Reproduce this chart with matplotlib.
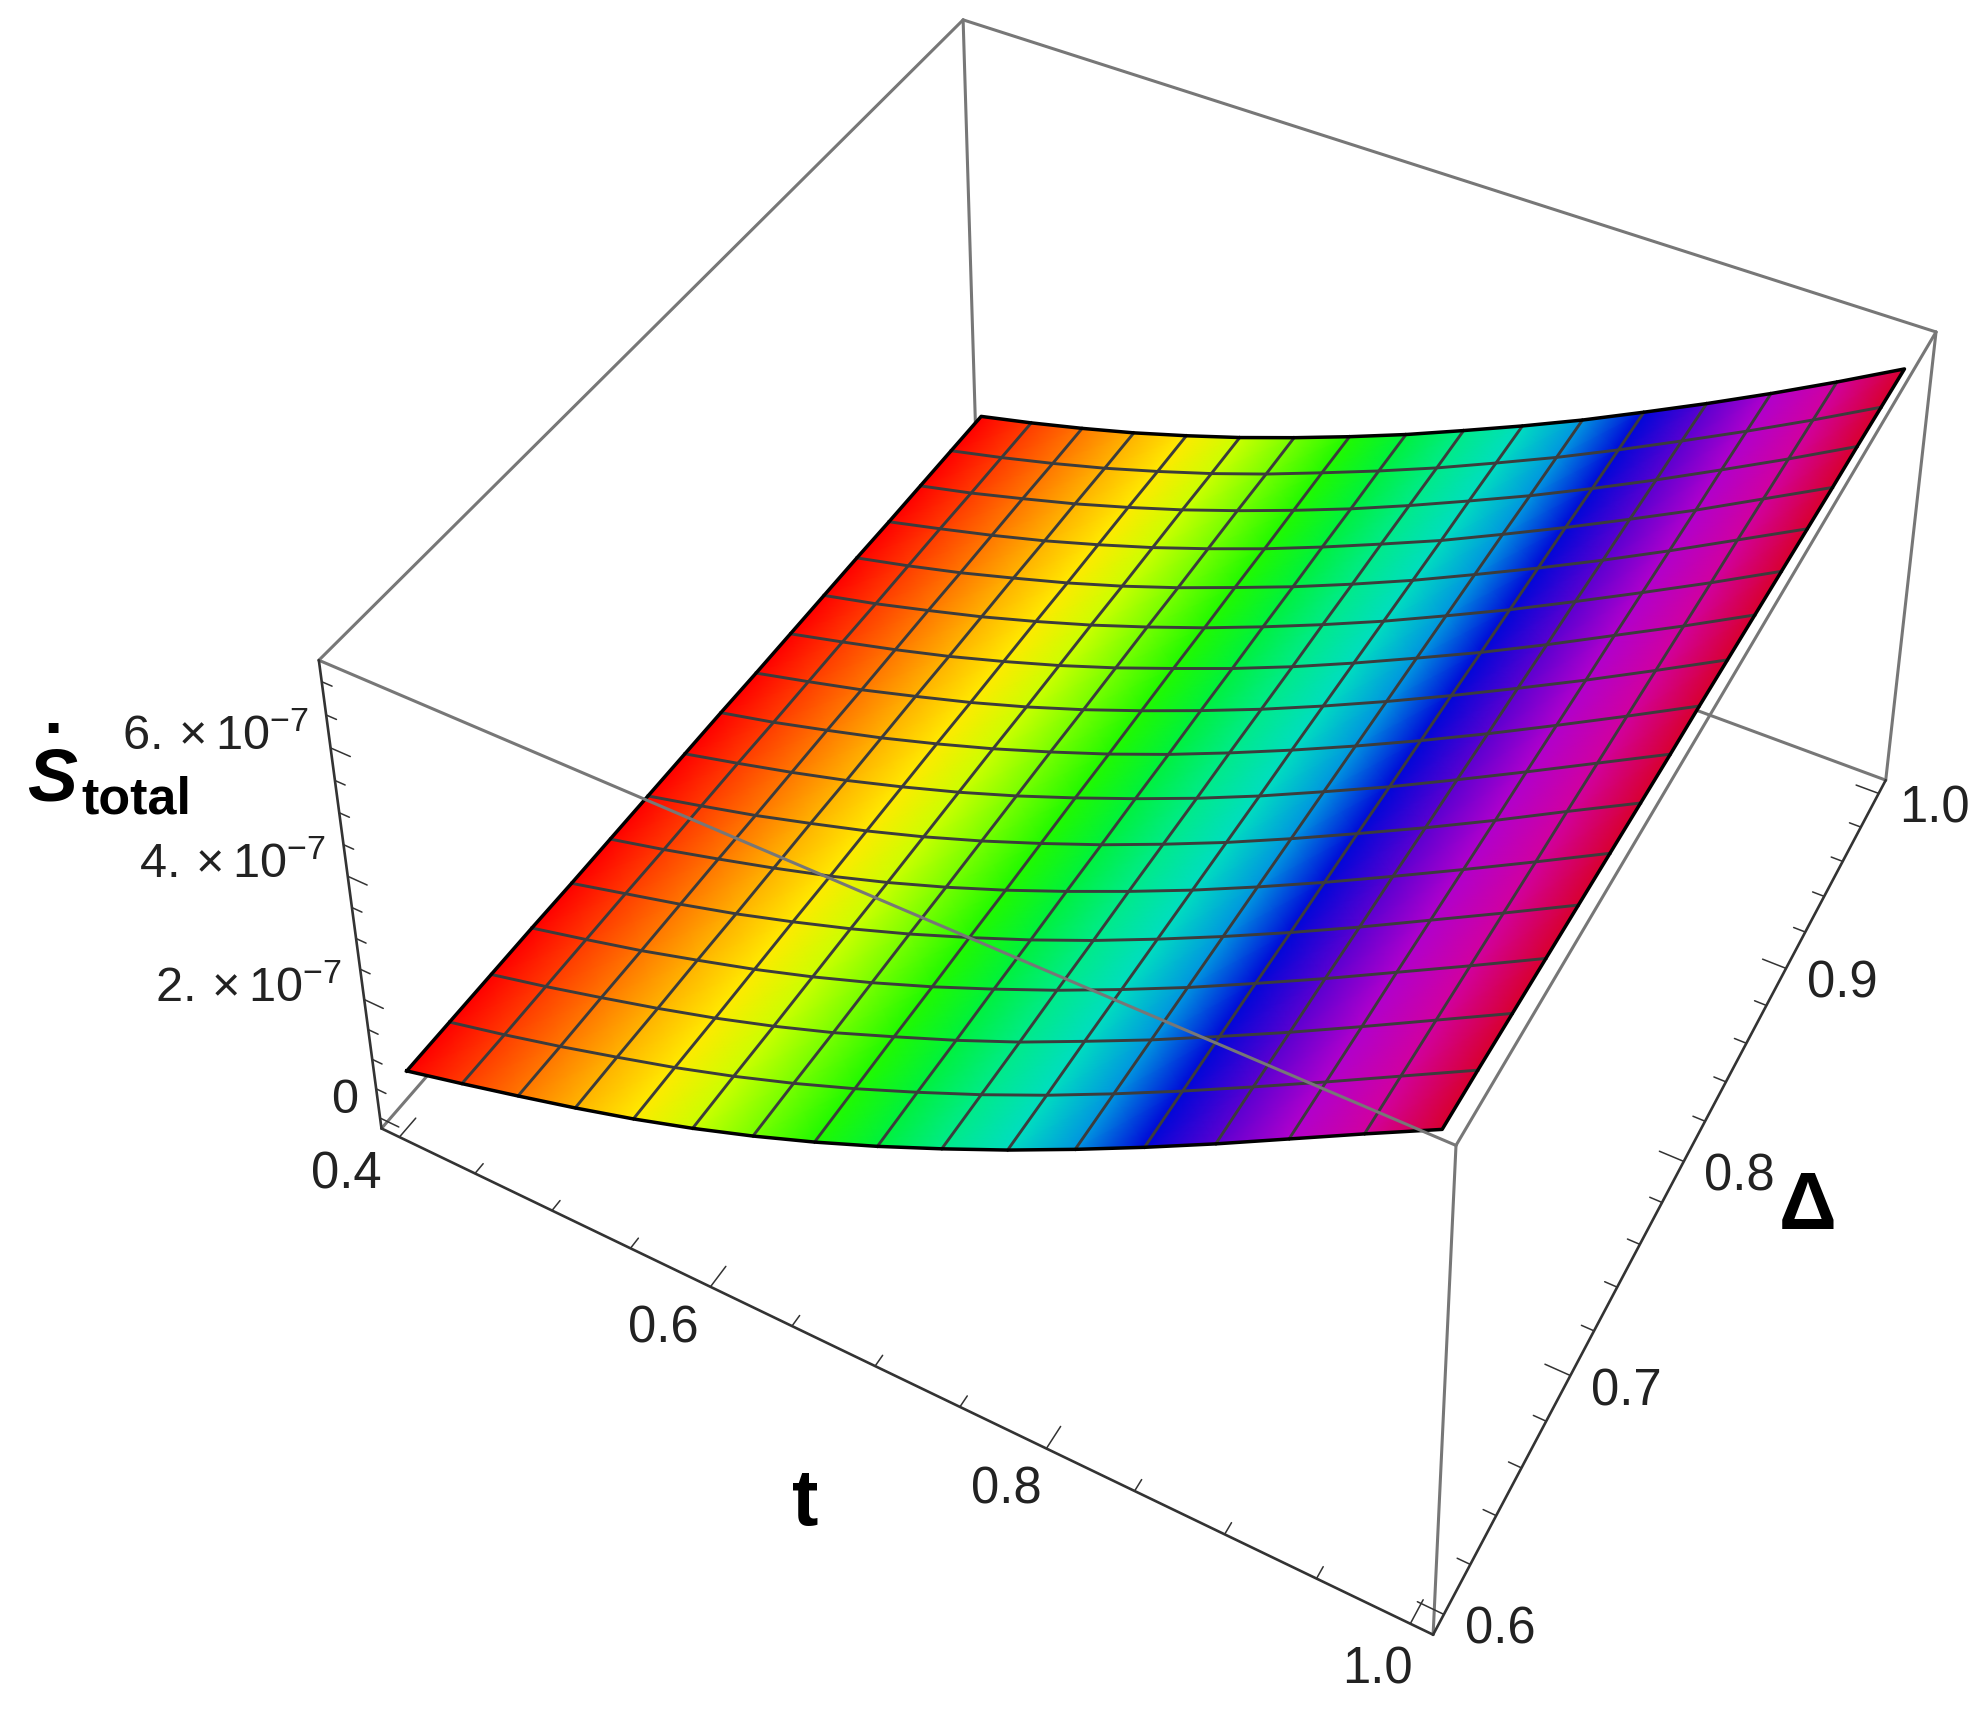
import numpy as np
import matplotlib
matplotlib.use('Agg')
import matplotlib.pyplot as plt
from matplotlib.colors import ListedColormap, Normalize, hsv_to_rgb

plt.rcParams['font.family'] = ['Liberation Sans', 'DejaVu Sans']
plt.rcParams['mathtext.fontset'] = 'custom'
plt.rcParams['mathtext.rm'] = 'Liberation Sans'
plt.rcParams['mathtext.it'] = 'Liberation Sans:italic'
plt.rcParams['mathtext.bf'] = 'Liberation Sans:bold'

# values, z in units of 1e-7
t_mesh = [0.4, 0.4375, 0.475, 0.5125, 0.55, 0.5875, 0.625, 0.6625, 0.7,
          0.7375, 0.775, 0.8125, 0.85, 0.8875, 0.925, 0.9625, 1.0]
delta_mesh = [0.6, 0.625, 0.65, 0.675, 0.7, 0.725, 0.75, 0.775, 0.8,
              0.825, 0.85, 0.875, 0.9, 0.925, 0.95, 0.975, 1.0]
# one row per t, one column per delta
z_table = [
    [0.68, 0.68, 0.68, 0.68, 0.67, 0.67, 0.67, 0.67, 0.67, 0.66, 0.66, 0.66, 0.66, 0.65, 0.65, 0.65, 0.65],
    [0.92, 0.91, 0.91, 0.91, 0.91, 0.90, 0.90, 0.90, 0.89, 0.89, 0.89, 0.88, 0.88, 0.88, 0.87, 0.87, 0.87],
    [1.17, 1.16, 1.16, 1.15, 1.15, 1.15, 1.14, 1.14, 1.14, 1.13, 1.13, 1.13, 1.12, 1.12, 1.12, 1.11, 1.11],
    [1.43, 1.43, 1.42, 1.42, 1.41, 1.41, 1.41, 1.40, 1.40, 1.40, 1.39, 1.39, 1.39, 1.38, 1.38, 1.37, 1.37],
    [1.71, 1.71, 1.70, 1.70, 1.70, 1.69, 1.69, 1.69, 1.69, 1.68, 1.68, 1.68, 1.67, 1.67, 1.67, 1.66, 1.66],
    [2.02, 2.02, 2.01, 2.01, 2.01, 2.00, 2.00, 2.00, 2.00, 1.99, 1.99, 1.99, 1.98, 1.98, 1.98, 1.97, 1.97],
    [2.36, 2.36, 2.35, 2.35, 2.35, 2.34, 2.34, 2.34, 2.34, 2.33, 2.33, 2.33, 2.32, 2.32, 2.32, 2.31, 2.31],
    [2.73, 2.73, 2.73, 2.72, 2.72, 2.71, 2.71, 2.71, 2.70, 2.70, 2.70, 2.69, 2.69, 2.68, 2.68, 2.68, 2.67],
    [3.13, 3.13, 3.12, 3.12, 3.11, 3.11, 3.10, 3.10, 3.09, 3.09, 3.08, 3.08, 3.07, 3.07, 3.06, 3.06, 3.05],
    [3.56, 3.55, 3.54, 3.54, 3.53, 3.53, 3.52, 3.51, 3.51, 3.50, 3.49, 3.49, 3.48, 3.48, 3.47, 3.46, 3.46],
    [4.01, 4.00, 4.00, 3.99, 3.98, 3.97, 3.96, 3.95, 3.95, 3.94, 3.93, 3.92, 3.91, 3.90, 3.90, 3.89, 3.88],
    [4.49, 4.48, 4.47, 4.46, 4.45, 4.44, 4.43, 4.42, 4.41, 4.40, 4.39, 4.38, 4.37, 4.36, 4.34, 4.33, 4.32],
    [4.99, 4.98, 4.97, 4.96, 4.94, 4.93, 4.92, 4.90, 4.89, 4.88, 4.86, 4.85, 4.84, 4.83, 4.81, 4.80, 4.79],
    [5.51, 5.50, 5.48, 5.47, 5.45, 5.44, 5.42, 5.41, 5.39, 5.38, 5.36, 5.35, 5.33, 5.32, 5.30, 5.29, 5.27],
    [6.05, 6.03, 6.01, 6.00, 5.98, 5.96, 5.94, 5.93, 5.91, 5.89, 5.88, 5.86, 5.84, 5.82, 5.81, 5.79, 5.77],
    [6.59, 6.57, 6.55, 6.53, 6.51, 6.49, 6.48, 6.46, 6.44, 6.42, 6.40, 6.38, 6.37, 6.35, 6.33, 6.31, 6.29],
    [7.12, 7.11, 7.09, 7.07, 7.05, 7.03, 7.01, 6.99, 6.98, 6.96, 6.94, 6.92, 6.90, 6.88, 6.87, 6.85, 6.83],
]

# colour at each t mesh line
hue_deg = [0, 14, 28, 42, 55, 72, 92, 112, 135, 155, 172, 200, 238, 266, 292, 314, 347]
sat = [1] * 17
val = [1, 1, 1, 1, 1, 1, 1, 0.98, 0.95, 0.92, 0.87, 0.88, 0.85, 0.82, 0.8, 0.82, 0.85]

t_major = [0.4, 0.6, 0.8, 1.0]
t_minor = [0.45, 0.5, 0.55, 0.65, 0.7, 0.75, 0.85, 0.9, 0.95]
delta_major = [0.6, 0.7, 0.8, 0.9, 1.0]
delta_minor = [0.62, 0.64, 0.66, 0.68, 0.72, 0.74, 0.76, 0.78, 0.82, 0.84, 0.86, 0.88, 0.92, 0.94, 0.96, 0.98]
z_major = [0, 2, 4, 6]
z_minor = [0.5, 1, 1.5, 2.5, 3, 3.5, 4.5, 5, 5.5, 6.5, 7]
z_labels = ['0', r'$2.\times 10^{-7}$', r'$4.\times 10^{-7}$', r'$6.\times 10^{-7}$']

T_LIM = (0.388, 1.012)
D_LIM = (0.592, 1.008)
Z_LIM = (-0.18, 7.32)
# view of the box, as a 3x4 perspective matrix fitted to the picture
CAMERA = np.array([[1849.46, 2513.03, -111.81, -1708.59],
                   [662.903, -1845.07, -672.287, 2304.4],
                   [-0.240713, 0.668045, -0.0948951, 1.0]])
GREY = '#777777'
DARK = '#333333'
TEXT = '#222222'


def project(t, d, z):
    """Perspective view of (t, delta, z) in the pixel frame of the axes."""
    t, d, z = np.broadcast_arrays(np.asarray(t, float), np.asarray(d, float), np.asarray(z, float))
    zn = (z - Z_LIM[0]) / (Z_LIM[1] - Z_LIM[0])
    h = CAMERA @ np.stack([t.ravel(), d.ravel(), zn.ravel(), np.ones(t.size)])
    return (h[0] / h[2]).reshape(t.shape), (h[1] / h[2]).reshape(t.shape)


def line3d(ax, t, d, z, **kw):
    x, y = project(t, d, z)
    ax.plot(x, y, solid_capstyle='round', **kw)


fig = plt.figure(figsize=(19.87, 17.12), dpi=100)
ax = fig.add_axes([0, 0, 1, 1])
ax.set_axis_off()

t0, t1 = T_LIM
d0, d1 = D_LIM
z0, z1 = Z_LIM

# box edges behind the surface
for t, d in [(t0, d1), (t1, d1), (t1, d0)]:
    line3d(ax, [t, t], [d, d], [z0, z1], color=GREY, lw=2.2, zorder=1)
line3d(ax, [t0, t0], [d0, d1], [z1, z1], color=GREY, lw=2.2, zorder=1)
line3d(ax, [t0, t1], [d1, d1], [z1, z1], color=GREY, lw=2.2, zorder=1)
line3d(ax, [t0, t0], [d0, d1], [z0, z0], color=GREY, lw=2.2, zorder=1)
line3d(ax, [t0, t1], [d1, d1], [z0, z0], color=GREY, lw=2.2, zorder=1)

# surface
tt, dd = np.meshgrid(t_mesh, delta_mesh, indexing='ij')
X, Y = project(tt, dd, np.array(z_table))
colors = hsv_to_rgb(np.c_[np.array(hue_deg) / 360, sat, val])
cmap = ListedColormap(colors)
C = np.repeat(np.arange(17)[:, None], 17, axis=1)
ax.pcolormesh(X, Y, C, shading='gouraud', cmap=cmap, norm=Normalize(0, 16), zorder=2)
for i in range(1, 16):
    ax.plot(X[i], Y[i], color='#3c3c3c', lw=2.1, zorder=3)
    ax.plot(X[:, i], Y[:, i], color='#3c3c3c', lw=2.1, zorder=3)
ax.plot(np.r_[X[:, 0], X[-1], X[::-1, -1], X[0][::-1]], np.r_[Y[:, 0], Y[-1], Y[::-1, -1], Y[0][::-1]],
        color='black', lw=2.5, zorder=4)

# box edges in front of the surface
line3d(ax, [t0, t1], [d0, d0], [z1, z1], color=GREY, lw=2.2, zorder=5)
line3d(ax, [t1, t1], [d0, d1], [z1, z1], color=GREY, lw=2.2, zorder=5)

# axes
line3d(ax, [t0, t1], [d0, d0], [z0, z0], color=DARK, lw=1.9, zorder=5)
line3d(ax, [t1, t1], [d0, d1], [z0, z0], color=DARK, lw=1.9, zorder=5)
line3d(ax, [t0, t0], [d0, d0], [z0, z1], color=DARK, lw=1.9, zorder=5)

for v in t_major + t_minor:
    n = 0.0095 if v in t_major else 0.0048
    line3d(ax, [v, v], [d0, d0 + n], [z0, z0], color=DARK, lw=1.1, zorder=5)
for v in delta_major + delta_minor:
    n = 0.014 if v in delta_major else 0.007
    line3d(ax, [t1, t1 - n], [v, v], [z0, z0], color=DARK, lw=1.1, zorder=5)
for v in z_major + z_minor:
    n = 0.0125 if v in z_major else 0.0065
    line3d(ax, [t0, t0 + n], [d0, d0], [v, v], color=DARK, lw=1.1, zorder=5)

# tick labels
t_offsets = [(-53, 38), (-47, 42), (-40, 41), (-33, 46)]
for v, off in zip(t_major, t_offsets):
    x, y = project(v, d0, z0)
    ax.text(x + off[0], y + off[1], '%.1f' % v, ha='center', va='center', fontsize=36.5, color=TEXT)
for v in delta_major:
    x, y = project(t1, v, z0)
    ax.text(x + 56, y + 16, '%.1f' % v, ha='center', va='center', fontsize=36.5, color=TEXT)
z_offsets = [-18, -10, -11, -11]
for v, lab, off in zip(z_major, z_labels, z_offsets):
    x, y = project(t0, d0, v)
    ax.text(x - 22, y + off, lab, ha='right', va='center', fontsize=35, color=TEXT)

# axis labels
ax.text(805, 1504, 't', ha='center', va='center', fontsize=57, fontweight='bold', color='black')
ax.text(1808, 1208, '\u0394', ha='center', va='center', fontsize=58, fontweight='bold', color='black')
ax.text(27, 800, 'S', ha='left', va='baseline', fontsize=54, fontweight='bold', fontstyle='italic', color='black')
ax.text(81, 813, 'total', ha='left', va='baseline', fontsize=37.5, fontweight='bold', color='black')
ax.text(43, 733, '.', ha='left', va='baseline', fontsize=50, fontweight='bold', color='black')

ax.set_xlim(0, 1987)
ax.set_ylim(1712, 0)
fig.savefig('out.png', dpi=100)
